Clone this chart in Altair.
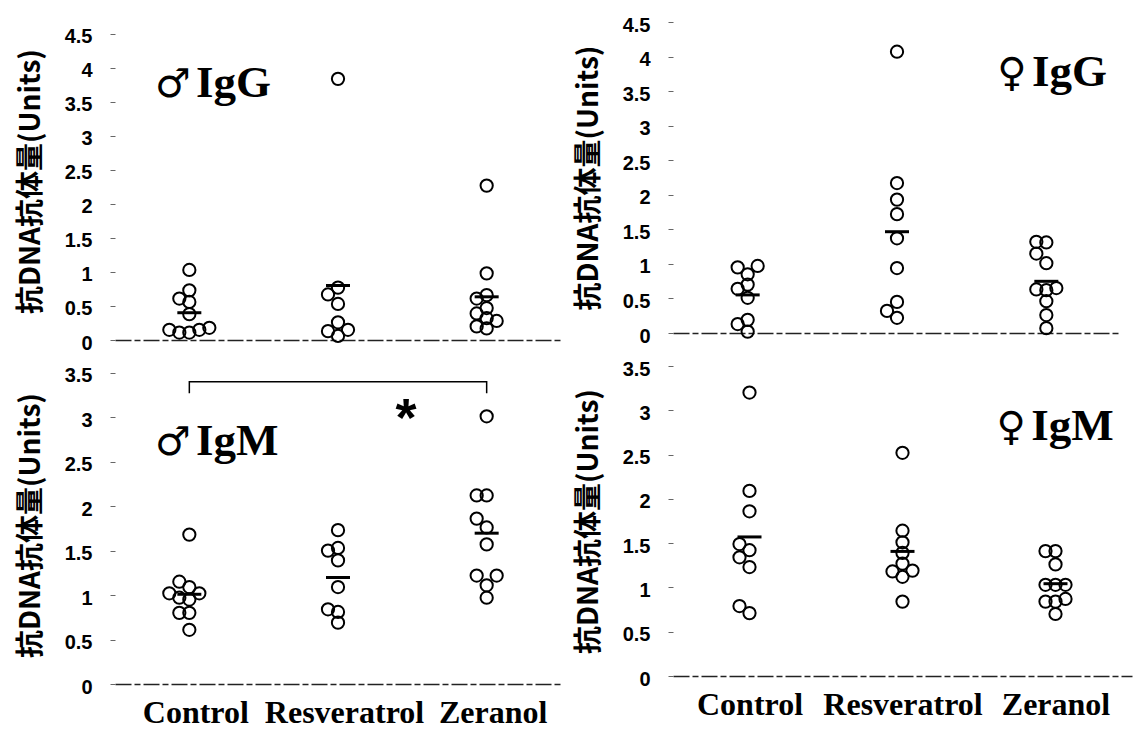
import json
import altair as alt
import pandas as pd

groups = ["Control", "Resveratrol", "Zeranol"]
y_title = "抗DNA抗体量(Units)"

# ♂ IgG
m_igg_control = [1.03, 0.73, 0.61, 0.56, 0.38, 0.18, 0.15, 0.15, 0.11, 0.11]
m_igg_resveratrol = [3.84, 0.77, 0.67, 0.53, 0.26, 0.15, 0.13, 0.06]
m_igg_zeranol = [2.27, 0.98, 0.66, 0.61, 0.47, 0.39, 0.32, 0.28, 0.20, 0.17]

# ♀ IgG
f_igg_control = [0.97, 0.95, 0.85, 0.70, 0.64, 0.51, 0.19, 0.13, 0.02]
f_igg_resveratrol = [4.07, 2.17, 1.93, 1.72, 1.37, 0.94, 0.45, 0.32, 0.22]
f_igg_zeranol = [1.32, 1.31, 1.15, 1.01, 0.65, 0.63, 0.62, 0.46, 0.26, 0.07]

# ♂ IgM
m_igm_control = [1.68, 1.15, 1.09, 1.02, 1.02, 0.97, 0.95, 0.80, 0.80, 0.61]
m_igm_resveratrol = [1.73, 1.53, 1.50, 1.39, 1.09, 0.84, 0.81, 0.69]
m_igm_zeranol = [3.01, 2.12, 2.12, 1.86, 1.76, 1.57, 1.22, 1.22, 1.11, 0.97]

# ♀ IgM
f_igm_control = [3.20, 2.09, 1.86, 1.49, 1.42, 1.34, 1.23, 0.79, 0.71]
f_igm_resveratrol = [2.52, 1.64, 1.51, 1.39, 1.27, 1.19, 1.18, 1.12, 0.84]
f_igm_zeranol = [1.41, 1.41, 1.26, 1.03, 1.03, 1.03, 0.87, 0.84, 0.84, 0.70]

panel_symbols = ["♂", "♀", "♂", "♀"]
panel_isotypes = ["IgG", "IgG", "IgM", "IgM"]
signif_mark = "*"

FONT_CJK = "Noto Sans CJK JP"
label_expr = json.dumps(groups) + "[datum.value]"


def swarm(vals, ppu, band, step=10.0, dythr=10.0):
    """Simple beeswarm: spread points that sit at nearly the same height."""
    order = sorted(range(len(vals)), key=lambda i: vals[i])
    cands = [0.0]
    for j in range(1, 8):
        cands += [-j * step, j * step]
    placed = []
    offs = [0.0] * len(vals)
    for i in order:
        y = vals[i] * ppu
        chosen = cands[-1]
        for c in cands:
            if all(not (abs(y - py) < dythr and abs(c - pc) < step * 0.99)
                   for py, pc in placed):
                chosen = c
                break
        offs[i] = chosen / band
        placed.append((y, chosen))
    return offs


def make_df(series, ppu, band):
    rows = []
    for gi, (g, vals) in enumerate(zip(groups, series)):
        offs = swarm(vals, ppu, band)
        for v, o in zip(vals, offs):
            rows.append({"group": g, "idx": gi, "v": v, "xpos": gi + o})
    return pd.DataFrame(rows)


def panel(series, ymax, ytop, width, height, sym, iso, sym_x, iso_x, ann_y,
          iso_align, show_labels, xlabel_offset=10, extra=None):
    ppu = height / ytop
    band = width / 3.0
    df = make_df(series, ppu, band)
    xs = alt.Scale(domain=[-0.5, 2.5], nice=False, zero=False)
    ys = alt.Scale(domain=[0, ytop], nice=False, zero=True)
    xaxis = alt.Axis(values=[0, 1, 2], labelExpr=label_expr, labels=show_labels,
                     ticks=False, grid=False, domain=True, domainColor="#222",
                     domainWidth=1.5, domainDash=[16, 3, 6, 3],
                     labelFont="Liberation Serif", labelFontSize=32,
                     labelFontWeight="bold", labelColor="black", labelPadding=13,
                     labelOffset=xlabel_offset, labelFlush=False,
                     labelOverlap=False, labelBound=False, title="")
    ticks = [i * 0.5 for i in range(int(round(ymax * 2)) + 1)]
    yaxis = alt.Axis(values=ticks, format="~g", domain=False, grid=False,
                     ticks=True, tickColor="#666", tickSize=5, tickWidth=1,
                     labelFont="Liberation Sans", labelFontSize=20,
                     labelFontWeight="bold", labelColor="black", labelPadding=18,
                     labelOffset=3, minExtent=50, maxExtent=50, title=y_title,
                     titleFont=FONT_CJK, titleFontSize=28, titleFontWeight="bold",
                     titleColor="black", titlePadding=20)
    X = alt.X("xpos:Q", scale=xs, axis=xaxis)
    Y = alt.Y("v:Q", scale=ys, axis=yaxis)

    base = alt.Chart(df)
    pts = base.mark_point(shape="circle", filled=False, color="black",
                          strokeWidth=2, size=150, opacity=1).encode(x=X, y=Y)
    means = base.transform_aggregate(
        v="mean(v)", groupby=["idx"]
    ).transform_calculate(xpos="datum.idx").mark_tick(
        orient="horizontal", size=24, thickness=3, color="black", opacity=1
    ).encode(x=X, y=Y)
    sym_df = pd.DataFrame({"xpos": [sym_x], "v": [ann_y], "t": [sym]})
    sym_txt = alt.Chart(sym_df).mark_text(
        align="center", baseline="alphabetic", font="DejaVu Sans",
        fontSize=40, fontWeight="bold", color="black"
    ).encode(x=X, y=Y, text="t:N")
    iso_df = pd.DataFrame({"xpos": [iso_x], "v": [ann_y], "t": [iso]})
    iso_txt = alt.Chart(iso_df).mark_text(
        align=iso_align, baseline="alphabetic", font="Liberation Serif",
        fontSize=45, fontWeight="bold", color="black"
    ).encode(x=X, y=Y, text="t:N")
    layers = [pts, means, sym_txt, iso_txt]
    if extra is not None:
        layers += extra(X, Y)
    return alt.layer(*layers).properties(width=width, height=height)


def bracket_layers(X, Y):
    br = pd.DataFrame({"xpos": [0, 0, 2, 2], "v": [3.27, 3.40, 3.40, 3.27],
                       "o": [0, 1, 2, 3]})
    line = alt.Chart(br).mark_line(color="black", strokeWidth=1.5).encode(
        x=X, y=Y, order="o:Q")
    star_df = pd.DataFrame({"xpos": [1.457], "v": [2.79], "t": [signif_mark]})
    star = alt.Chart(star_df).mark_text(
        align="center", baseline="alphabetic", font="Liberation Sans",
        fontSize=54, fontWeight="bold", color="black"
    ).encode(x=X, y=Y, text="t:N")
    return [line, star]


# left panels: band = 446/3 px, plot left edge at page x 114
tl = panel([m_igg_control, m_igg_resveratrol, m_igg_zeranol], 4.5, 4.676, 446, 318,
           panel_symbols[0], panel_isotypes[0], -0.11, 0.045, 3.57, "left", False)
tr = panel([f_igg_control, f_igg_resveratrol, f_igg_zeranol], 4.5, 4.5, 448, 311,
           panel_symbols[1], panel_isotypes[1], 1.77, 2.406, 3.57, "right", False)
bl = panel([m_igm_control, m_igm_resveratrol, m_igm_zeranol], 3.5, 3.576, 446, 318,
           panel_symbols[2], panel_isotypes[2], -0.11, 0.045, 2.57, "left", True,
           xlabel_offset=6, extra=bracket_layers)
brp = panel([f_igm_control, f_igm_resveratrol, f_igm_zeranol], 3.5, 3.5, 459, 310,
            panel_symbols[3], panel_isotypes[3], 1.71, 2.38, 2.67, "right", True,
            xlabel_offset=0)

chart = alt.concat(
    tl, tr, bl, brp, columns=2, spacing={"row": 26, "column": 112}, bounds="flush"
).properties(
    padding={"left": 16, "top": 14, "right": 0, "bottom": 0},
    background="white",
).configure_view(stroke="transparent")

chart.save("out.html", embed_options={"renderer": "svg", "actions": False})
